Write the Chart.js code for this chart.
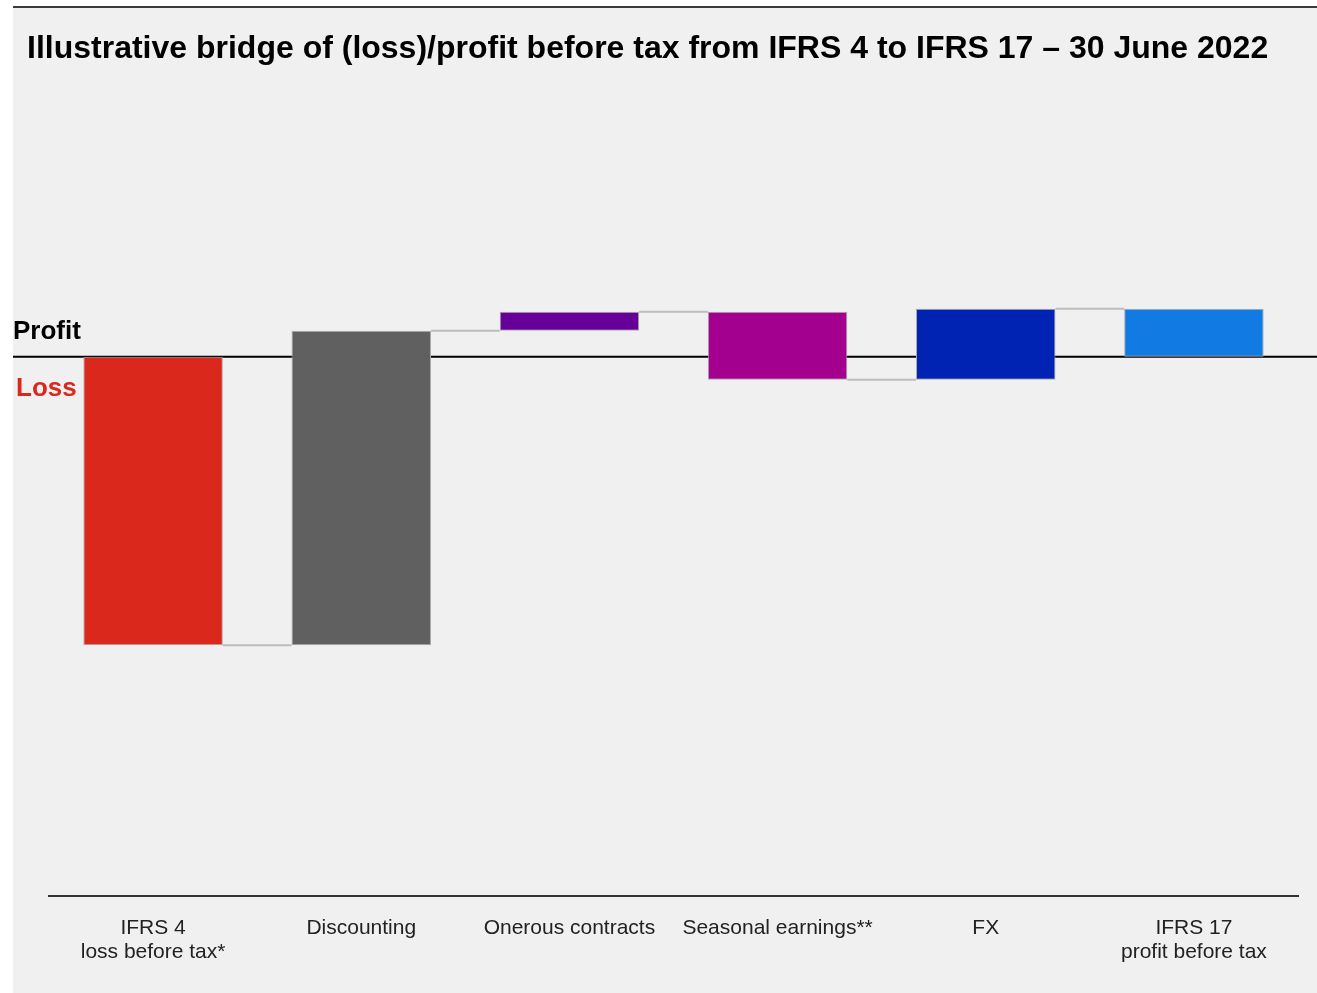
<!DOCTYPE html>
<html>
<head>
<meta charset="utf-8">
<script src="https://cdn.jsdelivr.net/npm/chart.js@4"></script>
<style>
  html, body { margin: 0; padding: 0; background: #fff; }
  #wrap { width: 1317px; height: 993px; position: relative; }
</style>
</head>
<body>
<div id="wrap"><canvas id="bridgeChart"></canvas></div>
<script>
  // bridge steps (illustrative units)
  const categories = [
    ['IFRS 4', 'loss before tax*'],
    'Discounting',
    'Onerous contracts',
    'Seasonal earnings**',
    'FX',
    ['IFRS 17', 'profit before tax']
  ];
  const movements = [-28.9, 31.5, 1.9, -6.8, 7.1];
  const closingValue = 4.8;
  const barColors = ['#DA291C', '#606060', '#660099', '#A3008F', '#0023B4', '#127BE3'];

  const titleText = 'Illustrative bridge of (loss)/profit before tax from IFRS 4 to IFRS 17 \u2013 30 June 2022';

  // floating bars: [start, end]
  const ranges = [];
  let running = 0;
  movements.forEach(m => {
    ranges.push([running, running + m]);
    running += m;
  });
  ranges.push([0, closingValue]);

  const pagePlugin = {
    id: 'page',
    beforeDraw(chart) {
      const c = chart.ctx;
      c.save();
      c.fillStyle = '#ffffff';
      c.fillRect(0, 0, chart.width, chart.height);
      c.fillStyle = '#f0f0f0';
      c.fillRect(13, 8, chart.width - 13, chart.height - 8);
      c.fillStyle = '#3a3a3a';
      c.fillRect(13, 6, chart.width - 13, 2);
      c.restore();
    },
    beforeDatasetsDraw(chart) {
      const c = chart.ctx;
      const y0 = chart.scales.y.getPixelForValue(0);
      c.save();
      c.strokeStyle = '#000';
      c.lineWidth = 2;
      c.beginPath();
      c.moveTo(13, y0);
      c.lineTo(chart.width, y0);
      c.stroke();
      c.restore();
    },
    afterDatasetsDraw(chart) {
      const c = chart.ctx;
      const bars = chart.getDatasetMeta(0).data;
      c.save();
      c.strokeStyle = '#bdbdbd';
      c.lineWidth = 2;
      for (let i = 0; i < bars.length - 1; i++) {
        const y = chart.scales.y.getPixelForValue(ranges[i][1]);
        c.beginPath();
        c.moveTo(bars[i].x + bars[i].width / 2, y);
        c.lineTo(bars[i + 1].x - bars[i + 1].width / 2, y);
        c.stroke();
      }
      c.restore();
    },
    afterDraw(chart) {
      const c = chart.ctx;
      const y0 = chart.scales.y.getPixelForValue(0);
      c.save();
      c.textBaseline = 'middle';
      c.fillStyle = '#000';
      c.font = 'bold 32px "Liberation Sans", Arial, sans-serif';
      c.fillText(titleText, 27, 49);
      c.font = 'bold 26px "Liberation Sans", Arial, sans-serif';
      c.fillText('Profit', 13, y0 - 25);
      c.fillStyle = '#DA291C';
      c.fillText('Loss', 16, y0 + 32);
      c.restore();
    }
  };

  const ctx = document.getElementById('bridgeChart').getContext('2d');
  const bridgeChart = new Chart(ctx, {
    type: 'bar',
    data: {
      labels: categories,
      datasets: [{
        data: ranges,
        backgroundColor: barColors,
        borderColor: '#a8a8a8',
        borderWidth: 1,
        borderSkipped: false,
        categoryPercentage: 1,
        barPercentage: 0.67
      }]
    },
    options: {
      responsive: true,
      maintainAspectRatio: false,
      animation: false,
      layout: { padding: { left: 49, right: 19, top: 98, bottom: 0 } },
      plugins: {
        legend: { display: false },
        tooltip: { enabled: false },
        title: { display: false }
      },
      scales: {
        x: {
          grid: { display: false, drawTicks: false },
          border: { display: true, color: '#333', width: 2 },
          ticks: {
            color: '#222',
            padding: 20,
            maxRotation: 0,
            autoSkip: false,
            font: { family: '"Liberation Sans", Arial, sans-serif', size: 21, lineHeight: 1.15 }
          },
          afterFit(scale) { scale.height = 97; }
        },
        y: {
          display: false,
          min: -54,
          max: 25.9
        }
      }
    },
    plugins: [pagePlugin]
  });
</script>
</body>
</html>
